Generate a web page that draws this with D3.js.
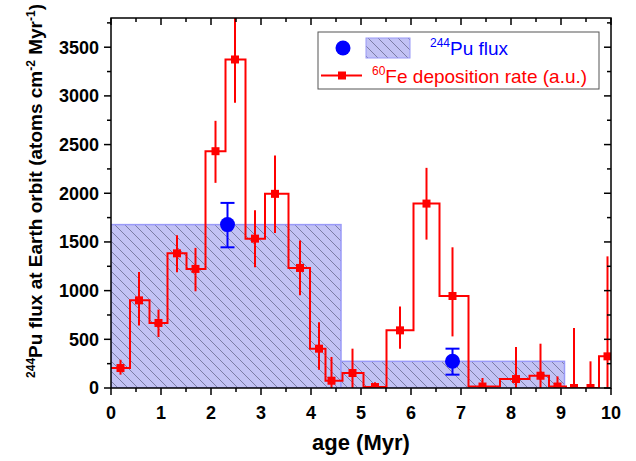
<!DOCTYPE html>
<html><head><meta charset="utf-8">
<script src="https://cdn.jsdelivr.net/npm/d3@7"></script>
<style>body{margin:0;background:#fff}svg{display:block;font-family:"Liberation Sans",Arial,sans-serif}</style>
</head><body><svg id="c" width="636" height="461"></svg>
<script>
// ---- data ----
const feBinEdges = [0, 0.38, 0.77, 1.13, 1.51, 1.89, 2.29, 2.69, 3.08, 3.55, 3.98, 4.29, 4.63, 5.05, 5.51, 6.05, 6.57, 7.15, 7.78, 8.37, 8.76, 9.10, 9.43, 9.76, 10.1];
const feAge    = [0.19, 0.56, 0.95, 1.32, 1.69, 2.09, 2.48, 2.88, 3.28, 3.78, 4.16, 4.41, 4.83, 5.28, 5.78, 6.31, 6.83, 7.43, 8.10, 8.59, 8.93, 9.26, 9.59, 9.93];
const feValue  = [205, 900, 668, 1383, 1223, 2432, 3374, 1534, 1994, 1233, 404, 75, 154, 10, 592, 1894, 945, 15, 92, 126, 15, 0, 0, 325];
const feErrHi  = [290, 1192, 805, 1568, 1439, 2744, 3820, 1825, 2388, 1514, 674, 319, 404, 60, 838, 2261, 1445, 103, 421, 455, 119, 617, 274, 1352];
const feErrLo  = [137, 643, 524, 1188, 993, 2107, 2929, 1239, 1593, 952, 188, 0, 0, 0, 404, 1524, 530, 0, 0, 0, 0, 0, 0, 0];
const puBinStart = [0, 4.6];
const puBinEnd   = [4.6, 9.07];
const puFlux     = [1678, 274];
const puAge      = [2.33, 6.83];
const puErrHi    = [1901, 404];
const puErrLo    = [1445, 137];
const xTicks = [0,1,2,3,4,5,6,7,8,9,10];
const yTicks = [0,500,1000,1500,2000,2500,3000,3500];

// ---- layout ----
const svg = d3.select("#c");
const L = 111, R = 611, T = 18, B = 388;
const x = d3.scaleLinear().domain([0,10]).range([L,R]);
const y = d3.scaleLinear().domain([0,3800]).range([B,T]);

const defs = svg.append("defs");
const pat = defs.append("pattern").attr("id","hatch").attr("patternUnits","userSpaceOnUse")
  .attr("width",10).attr("height",10);
pat.append("rect").attr("width",10).attr("height",10).attr("fill","#c2c2f4");
pat.append("path").attr("d","M0,0L10,10M-5,5L5,15M5,-5L15,5").attr("stroke","#6a6a90").attr("stroke-width",0.8);
defs.append("clipPath").attr("id","clip").append("rect").attr("x",L).attr("y",T).attr("width",R-L).attr("height",B-T);

const g = svg.append("g").attr("clip-path","url(#clip)");

// Pu boxes
g.selectAll("rect.pu").data(puFlux).join("rect")
  .attr("x",(d,i)=>x(puBinStart[i])).attr("width",(d,i)=>x(puBinEnd[i])-x(puBinStart[i]))
  .attr("y",d=>y(d)).attr("height",d=>B-y(d))
  .attr("fill","url(#hatch)").attr("stroke","#9a9af8").attr("stroke-width",1.5);

// Fe step line
const stepPts = feValue.map((v,i)=>[feBinEdges[i],v]);
stepPts.push([feBinEdges[feBinEdges.length-1], feValue[feValue.length-1]]);
g.append("path").attr("d", d3.line().x(d=>x(d[0])).y(d=>y(d[1])).curve(d3.curveStepAfter)(stepPts))
  .attr("fill","none").attr("stroke","#ff0000").attr("stroke-width",2);
// Fe error bars
g.selectAll("line.fe").data(feValue).join("line")
  .attr("x1",(d,i)=>x(feAge[i])).attr("x2",(d,i)=>x(feAge[i]))
  .attr("y1",(d,i)=>y(feErrHi[i])).attr("y2",(d,i)=>y(feErrLo[i]))
  .attr("stroke","#ff0000").attr("stroke-width",2);
g.selectAll("rect.fem").data(feValue).join("rect")
  .attr("x",(d,i)=>x(feAge[i])-4).attr("y",d=>y(d)-4).attr("width",8).attr("height",8).attr("fill","#ff0000");

// Pu points
puAge.forEach((a,i)=>{
  const cx = x(a);
  g.append("line").attr("x1",cx).attr("x2",cx).attr("y1",y(puErrHi[i])).attr("y2",y(puErrLo[i])).attr("stroke","#0000ff").attr("stroke-width",2);
  [puErrHi[i],puErrLo[i]].forEach(v=>g.append("line").attr("x1",cx-7).attr("x2",cx+7).attr("y1",y(v)).attr("y2",y(v)).attr("stroke","#0000ff").attr("stroke-width",2));
  g.append("circle").attr("cx",cx).attr("cy",y(puFlux[i])).attr("r",7.5).attr("fill","#0000ff");
});

// ---- axes ----
const xMinor = d3.range(0.5,10,1);
const yMinor = d3.range(250,3800,500);
const ax = svg.append("g").attr("stroke","#000").attr("stroke-width",1.5);
xTicks.forEach(t=>{ ax.append("line").attr("x1",x(t)).attr("x2",x(t)).attr("y1",B).attr("y2",B+7);
  ax.append("line").attr("x1",x(t)).attr("x2",x(t)).attr("y1",T).attr("y2",T+7); });
xMinor.forEach(t=>{ ax.append("line").attr("x1",x(t)).attr("x2",x(t)).attr("y1",B).attr("y2",B+4);
  ax.append("line").attr("x1",x(t)).attr("x2",x(t)).attr("y1",T).attr("y2",T+4); });
yTicks.forEach(t=>{ ax.append("line").attr("x1",L-7).attr("x2",L).attr("y1",y(t)).attr("y2",y(t));
  ax.append("line").attr("x1",R-7).attr("x2",R).attr("y1",y(t)).attr("y2",y(t)); });
yMinor.forEach(t=>{ ax.append("line").attr("x1",L-4).attr("x2",L).attr("y1",y(t)).attr("y2",y(t));
  ax.append("line").attr("x1",R-4).attr("x2",R).attr("y1",y(t)).attr("y2",y(t)); });
svg.append("rect").attr("x",L).attr("y",T).attr("width",R-L).attr("height",B-T)
  .attr("fill","none").attr("stroke","#000").attr("stroke-width",1.5);

svg.selectAll("text.xt").data(xTicks).join("text").attr("x",d=>x(d)).attr("y",419)
  .attr("text-anchor","middle").attr("font-size",18).attr("font-weight","bold").text(d=>d);
svg.selectAll("text.yt").data(yTicks).join("text").attr("x",99).attr("y",d=>y(d)).attr("dy","0.36em")
  .attr("text-anchor","end").attr("font-size",18).attr("font-weight","bold").text(d=>d);

svg.append("text").attr("x",(L+R)/2).attr("y",450).attr("text-anchor","middle")
  .attr("font-size",22).attr("font-weight","bold").text("age (Myr)");

const yl = svg.append("text").attr("transform","translate(42,191) rotate(-90)").attr("text-anchor","middle")
  .attr("font-size",19).attr("font-weight","bold");
yl.append("tspan").attr("font-size",12).attr("dy",-7).text("244");
yl.append("tspan").attr("dy",7).text("Pu flux at Earth orbit (atoms cm");
yl.append("tspan").attr("font-size",12).attr("dy",-7).text("-2");
yl.append("tspan").attr("dy",7).text(" Myr");
yl.append("tspan").attr("font-size",12).attr("dy",-7).text("-1");
yl.append("tspan").attr("dy",7).text(")");

// ---- legend ----
const lg = svg.append("g");
lg.append("rect").attr("x",318).attr("y",32).attr("width",281).attr("height",57).attr("fill","#fff").attr("stroke","#555").attr("stroke-width",1);
lg.append("circle").attr("cx",343).attr("cy",48).attr("r",7.5).attr("fill","#0000ff");
lg.append("rect").attr("x",366).attr("y",38).attr("width",44).attr("height",20).attr("fill","url(#hatch)").attr("stroke","#9a9af8");
const t1 = lg.append("text").attr("x",430).attr("y",55).attr("font-size",19).attr("fill","#0000ff");
t1.append("tspan").attr("font-size",12).attr("dy",-8).text("244");
t1.append("tspan").attr("dy",8).text("Pu flux");
lg.append("line").attr("x1",321).attr("x2",362).attr("y1",75.5).attr("y2",75.5).attr("stroke","#ff0000").attr("stroke-width",2);
lg.append("rect").attr("x",338).attr("y",71.5).attr("width",8).attr("height",8).attr("fill","#ff0000");
const t2 = lg.append("text").attr("x",372).attr("y",83).attr("font-size",19).attr("fill","#ff0000");
t2.append("tspan").attr("font-size",12).attr("dy",-8).text("60");
t2.append("tspan").attr("dy",8).text("Fe deposition rate (a.u.)");
</script></body></html>
